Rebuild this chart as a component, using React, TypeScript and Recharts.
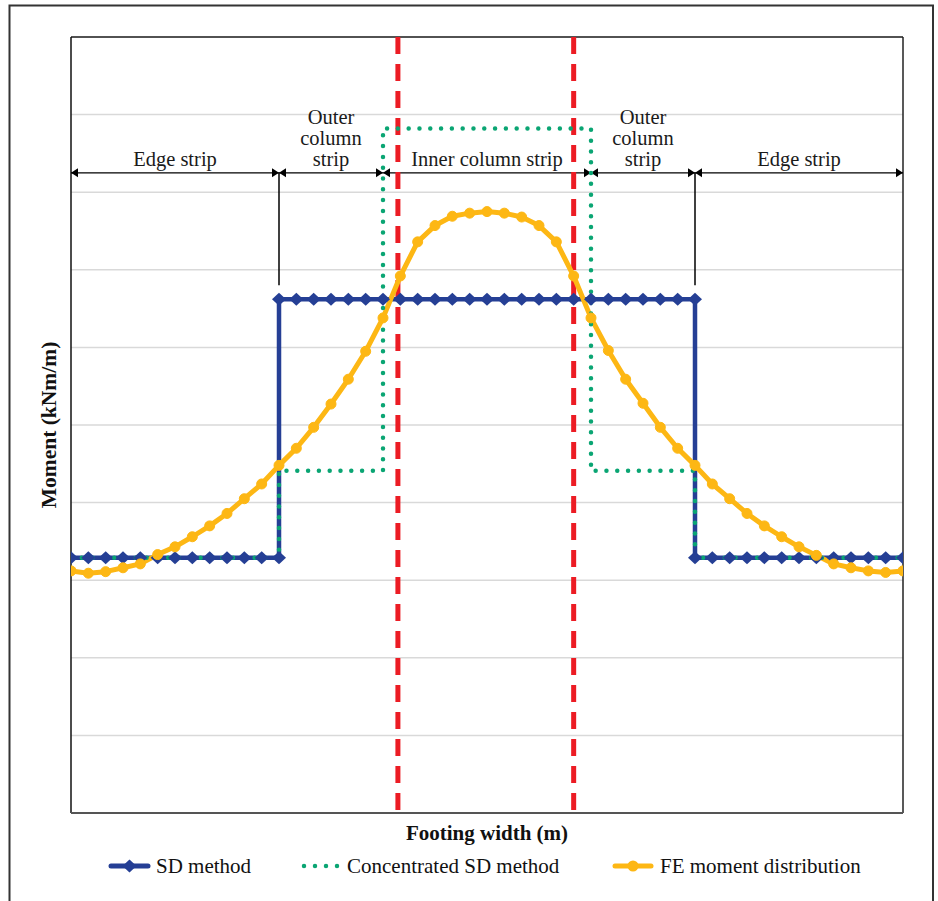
import React from 'react';
import { LineChart, Line, XAxis, YAxis, CartesianGrid, ReferenceLine } from 'recharts';

const W = 938;
const H = 901;

// Footing stations (index along footing width)
const stations = [0,1,2,3,4,5,6,7,8,9,10,11,12,13,14,15,16,17,18,19,20,21,22,23,24,25,26,27,28,29,30,31,32,33,34,35,36,37,38,39,40,41,42,43,44,45,46,47,48];

// FE moment distribution values
const feMoment = [3.12,3.09,3.11,3.16,3.21,3.33,3.43,3.56,3.70,3.86,4.05,4.24,4.48,4.70,4.97,5.27,5.59,5.95,6.38,6.92,7.36,7.57,7.69,7.73,7.75,7.73,7.68,7.57,7.36,6.92,6.38,5.96,5.59,5.28,4.97,4.70,4.48,4.24,4.05,3.86,3.70,3.56,3.43,3.32,3.21,3.16,3.12,3.10,3.12];

// SD method (step)
const sdX = [0,1,2,3,4,5,6,7,8,9,10,11,12,12,13,14,15,16,17,18,19,20,21,22,23,24,25,26,27,28,29,30,31,32,33,34,35,36,36,37,38,39,40,41,42,43,44,45,46,47,48];
const sdY = [3.29,3.29,3.29,3.29,3.29,3.29,3.29,3.29,3.29,3.29,3.29,3.29,3.29,6.62,6.62,6.62,6.62,6.62,6.62,6.62,6.62,6.62,6.62,6.62,6.62,6.62,6.62,6.62,6.62,6.62,6.62,6.62,6.62,6.62,6.62,6.62,6.62,6.62,3.29,3.29,3.29,3.29,3.29,3.29,3.29,3.29,3.29,3.29,3.29,3.29,3.29];

// Concentrated SD method (step)
const concX = [0,12,12,18,18,30,30,36,36,48];
const concY = [3.29,3.29,4.41,4.41,8.82,8.82,4.41,4.41,3.29,3.29];

// Column faces (red dashed)
const columnFaces = [18.86, 29.0];

const yTicks = [0,1,2,3,4,5,6,7,8,9,10];

// Strip annotations
const stripBounds = [0,12,18,30,36,48];
const stripLabels = [["Edge strip"],["Outer","column","strip"],["Inner column strip"],["Outer","column","strip"],["Edge strip"]];
const stripLevel = 8.25;
const stripTickBottom = 6.8;
const stripTicksAt = [12, 36];

const seriesNames = ["SD method", "Concentrated SD method", "FE moment distribution"];
const xTitle = "Footing width (m)";
const yTitle = "Moment (kNm/m)";

const BLUE = '#253F95';
const GREEN = '#0AA573';
const ORANGE = '#FDB714';
const RED = '#EC1C24';
const FONT = '"Liberation Serif", "Times New Roman", serif';

const feData = stations.map((x, i) => ({ x, y: feMoment[i] }));
const sdData = sdX.map((x, i) => ({ x, y: sdY[i] }));
const concData = concX.map((x, i) => ({ x, y: concY[i] }));

const Diamond = (p: any) => {
  const { cx, cy, index } = p;
  if (cx == null || cy == null) return <g key={index} />;
  return (
    <polygon
      key={`d-${index}`}
      points={`${cx - 7},${cy} ${cx},${cy - 6.5} ${cx + 7},${cy} ${cx},${cy + 6.5}`}
      fill={BLUE}
    />
  );
};

const makeStripShape = (lines: string[]) => (p: any) => {
  const { x1, y1, x2 } = p;
  const y = y1;
  const a = Math.min(x1, x2);
  const b = Math.max(x1, x2);
  const cx = (a + b) / 2;
  const n = lines.length;
  return (
    <g>
      <line x1={a} y1={y} x2={b} y2={y} stroke="#000" strokeWidth={1.3} />
      <polygon points={`${a},${y} ${a + 7},${y - 4.5} ${a + 7},${y + 4.5}`} fill="#000" />
      <polygon points={`${b},${y} ${b - 7},${y - 4.5} ${b - 7},${y + 4.5}`} fill="#000" />
      {lines.map((t, i) => (
        <text
          key={i}
          x={cx}
          y={y - 7 - (n - 1 - i) * 21}
          textAnchor="middle"
          fontFamily={FONT}
          fontSize={20.5}
          fill="#1a1a1a"
        >
          {t}
        </text>
      ))}
    </g>
  );
};

export default function App() {
  return (
    <div style={{ position: 'absolute', left: 0, top: 0, width: W, height: H, background: '#fff', overflow: 'hidden' }}>
      <LineChart
        width={W}
        height={H}
        margin={{ top: 37, right: 35, bottom: 88, left: 71 }}
      >
        <XAxis dataKey="x" type="number" domain={[0, 48]} hide allowDataOverflow />
        <YAxis type="number" domain={[0, 10]} ticks={yTicks} hide allowDataOverflow />
        <CartesianGrid vertical={false} stroke="#d9d9d9" strokeWidth={1.5} />
        <ReferenceLine y={10} stroke="#222" strokeWidth={1.5} />
        <ReferenceLine x={0} stroke="#111" strokeWidth={1.5} />
        <ReferenceLine x={48} stroke="#222" strokeWidth={1.5} />
        <ReferenceLine y={0} stroke="#555" strokeWidth={2} />
        {stripTicksAt.map((s) => (
          <ReferenceLine
            key={`t-${s}`}
            segment={[{ x: s, y: stripLevel }, { x: s, y: stripTickBottom }]}
            stroke="#000"
            strokeWidth={1.5}
          />
        ))}
        {stripLabels.map((lines, i) => (
          <ReferenceLine
            key={`s-${i}`}
            segment={[{ x: stripBounds[i], y: stripLevel }, { x: stripBounds[i + 1], y: stripLevel }]}
            stroke="#000"
            shape={makeStripShape(lines)}
          />
        ))}
        <Line
          data={sdData}
          dataKey="y"
          name={seriesNames[0]}
          stroke={BLUE}
          strokeWidth={4.5}
          strokeLinejoin="round"
          dot={Diamond}
          activeDot={false}
          isAnimationActive={false}
        />
        {columnFaces.map((f, i) => (
          <Line
            key={`r-${i}`}
            data={[{ x: f, y: 10 }, { x: f, y: 0 }]}
            dataKey="y"
            stroke={RED}
            strokeWidth={5}
            strokeDasharray="17 10"
            dot={false}
            activeDot={false}
            legendType="none"
            isAnimationActive={false}
          />
        ))}
        <Line
          data={feData}
          dataKey="y"
          name={seriesNames[2]}
          stroke={ORANGE}
          strokeWidth={5}
          strokeLinejoin="round"
          dot={{ r: 5, fill: ORANGE, stroke: ORANGE, strokeWidth: 1 }}
          activeDot={false}
          isAnimationActive={false}
        />
        <Line
          data={concData}
          dataKey="y"
          name={seriesNames[1]}
          stroke={GREEN}
          strokeWidth={4.5}
          strokeDasharray="0 10.8"
          strokeLinecap="round"
          dot={false}
          activeDot={false}
          isAnimationActive={false}
        />
      </LineChart>
      <svg
        width={W}
        height={H}
        style={{ position: 'absolute', left: 0, top: 0, pointerEvents: 'none' }}
      >
        <rect x={9.5} y={5.5} width={923.5} height={920} fill="none" stroke="#333" strokeWidth={2} />
        <text x={487} y={840} textAnchor="middle" fontFamily={FONT} fontWeight="bold" fontSize={21} fill="#111">
          {xTitle}
        </text>
        <text
          transform="translate(56,425) rotate(-90)"
          textAnchor="middle"
          fontFamily={FONT}
          fontWeight="bold"
          fontSize={21.5}
          fill="#111"
        >
          {yTitle}
        </text>
        {/* Legend */}
        <g>
          <line x1={111} y1={866} x2={148} y2={866} stroke={BLUE} strokeWidth={5} strokeLinecap="round" />
          <polygon points={`${122.5},866 ${129.5},859.5 ${136.5},866 ${129.5},872.5`} fill={BLUE} />
          <text x={156} y={873} fontFamily={FONT} fontSize={21} fill="#111">{seriesNames[0]}</text>

          <line x1={304} y1={866} x2={340} y2={866} stroke={GREEN} strokeWidth={4.5} strokeDasharray="0 11" strokeLinecap="round" />
          <text x={347} y={873} fontFamily={FONT} fontSize={21} fill="#111">{seriesNames[1]}</text>

          <line x1={615} y1={866} x2={651} y2={866} stroke={ORANGE} strokeWidth={5} strokeLinecap="round" />
          <circle cx={633} cy={866} r={5.5} fill={ORANGE} />
          <text x={660} y={873} fontFamily={FONT} fontSize={21} fill="#111">{seriesNames[2]}</text>
        </g>
      </svg>
    </div>
  );
}
